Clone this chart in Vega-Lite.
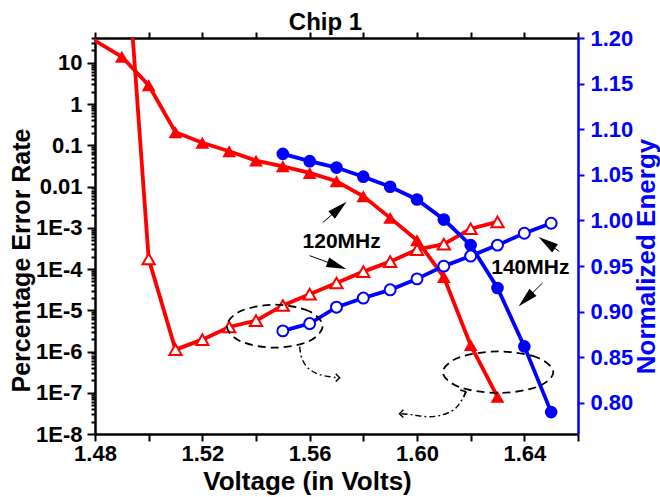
{
  "$schema": "https://vega.github.io/schema/vega-lite/v6.json",
  "width": 483,
  "height": 396,
  "autosize": {"type": "none"},
  "padding": {"left": 95, "top": 38, "right": 82, "bottom": 63},
  "background": "white",
  "config": {
    "view": {"stroke": null},
    "font": "Liberation Sans",
    "axis": {"grid": false, "labelFont": "Liberation Sans", "titleFont": "Liberation Sans", "labelFontWeight": "bold", "titleFontWeight": "bold", "labelFlush": false},
    "text": {"font": "Liberation Sans"}
  },
  "title": {"text": "Chip 1", "fontSize": 24, "fontWeight": "bold", "font": "Liberation Sans", "color": "black", "offset": -8, "anchor": "middle", "dx": -11},
  "datasets": {
    "errFilled": [
      {"v": 1.47, "r": 85},
      {"v": 1.49, "r": 14.0},
      {"v": 1.50, "r": 2.86},
      {"v": 1.51, "r": 0.207},
      {"v": 1.52, "r": 0.115},
      {"v": 1.53, "r": 0.0716},
      {"v": 1.54, "r": 0.0426},
      {"v": 1.55, "r": 0.031},
      {"v": 1.56, "r": 0.0214},
      {"v": 1.57, "r": 0.0134},
      {"v": 1.58, "r": 0.0058},
      {"v": 1.59, "r": 0.00174},
      {"v": 1.60, "r": 0.0005},
      {"v": 1.61, "r": 6.4e-5},
      {"v": 1.62, "r": 1.43e-6},
      {"v": 1.63, "r": 8.0e-8}
    ],
    "errOpen": [
      {"v": 1.49, "r": 200000},
      {"v": 1.50, "r": 1.76e-4},
      {"v": 1.51, "r": 1.11e-6},
      {"v": 1.52, "r": 1.94e-6},
      {"v": 1.53, "r": 3.94e-6},
      {"v": 1.54, "r": 5.6e-6},
      {"v": 1.55, "r": 1.31e-5},
      {"v": 1.56, "r": 2.46e-5},
      {"v": 1.57, "r": 4.6e-5},
      {"v": 1.58, "r": 8.65e-5},
      {"v": 1.59, "r": 1.51e-4},
      {"v": 1.60, "r": 2.96e-4},
      {"v": 1.61, "r": 4.02e-4},
      {"v": 1.62, "r": 9.5e-4},
      {"v": 1.63, "r": 1.39e-3}
    ],
    "enFilled": [
      {"v": 1.55, "e": 1.073},
      {"v": 1.56, "e": 1.065},
      {"v": 1.57, "e": 1.058},
      {"v": 1.58, "e": 1.048},
      {"v": 1.59, "e": 1.037},
      {"v": 1.60, "e": 1.023},
      {"v": 1.61, "e": 1.001},
      {"v": 1.62, "e": 0.973},
      {"v": 1.63, "e": 0.926},
      {"v": 1.64, "e": 0.862},
      {"v": 1.65, "e": 0.790}
    ],
    "enOpen": [
      {"v": 1.55, "e": 0.879},
      {"v": 1.56, "e": 0.887},
      {"v": 1.57, "e": 0.905},
      {"v": 1.58, "e": 0.915},
      {"v": 1.59, "e": 0.924},
      {"v": 1.60, "e": 0.936},
      {"v": 1.61, "e": 0.950},
      {"v": 1.62, "e": 0.961},
      {"v": 1.63, "e": 0.973},
      {"v": 1.64, "e": 0.986},
      {"v": 1.65, "e": 0.997}
    ],
    "ellipses": [
      {"g": "L", "i": 0, "v": 1.56484, "e": 0.88416},
      {"g": "L", "i": 1, "v": 1.55961, "e": 0.90082},
      {"g": "L", "i": 2, "v": 1.54698, "e": 0.90772},
      {"g": "L", "i": 3, "v": 1.53435, "e": 0.90082},
      {"g": "L", "i": 4, "v": 1.52912, "e": 0.88416},
      {"g": "L", "i": 5, "v": 1.53435, "e": 0.86750},
      {"g": "L", "i": 6, "v": 1.54698, "e": 0.86060},
      {"g": "L", "i": 7, "v": 1.55961, "e": 0.86750},
      {"g": "R", "i": 0, "v": 1.65079, "e": 0.83375},
      {"g": "R", "i": 1, "v": 1.64476, "e": 0.84987},
      {"g": "R", "i": 2, "v": 1.63021, "e": 0.85654},
      {"g": "R", "i": 3, "v": 1.61566, "e": 0.84987},
      {"g": "R", "i": 4, "v": 1.60963, "e": 0.83375},
      {"g": "R", "i": 5, "v": 1.61566, "e": 0.81763},
      {"g": "R", "i": 6, "v": 1.63021, "e": 0.81096},
      {"g": "R", "i": 7, "v": 1.64476, "e": 0.81763}
    ],
    "curves": [
      {"g": "L", "i": 0, "v": 1.55628, "e": 0.86170},
      {"g": "L", "i": 1, "v": 1.55702, "e": 0.84965},
      {"g": "L", "i": 2, "v": 1.55926, "e": 0.83869},
      {"g": "L", "i": 3, "v": 1.56372, "e": 0.83102},
      {"g": "L", "i": 4, "v": 1.57042, "e": 0.82773},
      {"g": "R", "i": 0, "v": 1.61842, "e": 0.81238},
      {"g": "R", "i": 1, "v": 1.61581, "e": 0.79923},
      {"g": "R", "i": 2, "v": 1.61321, "e": 0.79156},
      {"g": "R", "i": 3, "v": 1.60837, "e": 0.78608},
      {"g": "R", "i": 4, "v": 1.60353, "e": 0.78499},
      {"g": "R", "i": 5, "v": 1.59795, "e": 0.78718},
      {"g": "R", "i": 6, "v": 1.59349, "e": 0.78827}
    ],
    "chevrons": [
      {"v": 1.57116, "e": 0.82773, "a": 0},
      {"v": 1.59349, "e": 0.78827, "a": 180},
      {"v": 1.61805, "e": 0.81267, "a": -30}
    ],
    "arrowLines": [
      {"v": 1.56484, "e": 0.99759, "v2": 1.57098, "e2": 1.01337},
      {"v": 1.56, "e": 0.96143, "v2": 1.57016, "e2": 0.95058},
      {"v": 1.65302, "e": 0.96614, "v2": 1.64837, "e2": 0.97567},
      {"v": 1.64681, "e": 0.93151, "v2": 1.64056, "e2": 0.91353}
    ],
    "arrowHeads": [
      {"v": 1.57098, "e": 1.01337, "a": 48.7},
      {"v": 1.57016, "e": 0.95058, "a": 109.9},
      {"v": 1.64837, "e": 0.97567, "a": 304.8},
      {"v": 1.64056, "e": 0.91353, "a": 225.7}
    ],
    "labels": [
      {"v": 1.57191, "e": 0.97677, "t": "120MHz"},
      {"v": 1.64223, "e": 0.94827, "t": "140MHz"}
    ]
  },
  "layer": [
    {
      "layer": [
        {
          "data": {"name": "errFilled"},
          "mark": {"type": "line", "color": "#ff0000", "strokeWidth": 3.8, "clip": true},
          "encoding": {
            "x": {"field": "v", "type": "quantitative", "scale": {"domain": [1.48, 1.66], "nice": false, "zero": false},
              "axis": {"orient": "bottom", "values": [1.48, 1.50, 1.52, 1.54, 1.56, 1.58, 1.60, 1.62, 1.64, 1.66],
                "labelExpr": "indexof(['1.48','1.52','1.56','1.60','1.64'], format(datum.value,'.2f')) >= 0 ? format(datum.value,'.2f') : ''",
                "labelOverlap": false,
                "labelFontSize": 22, "labelColor": "black", "labelPadding": 2,
                "tickSize": 7, "tickWidth": 2, "tickColor": "black", "domainColor": "black", "domainWidth": 2.5,
                "title": "Voltage (in Volts)", "titleFontSize": 26, "titleColor": "black",
                "titleX": 212, "titleY": 47, "titleAlign": "center", "titleBaseline": "middle"}},
            "y": {"field": "r", "type": "quantitative", "scale": {"type": "log", "domain": [1e-8, 40], "nice": false},
              "axis": {"orient": "left", "tickCount": 100,
                "labelExpr": "abs(log(datum.value)/LN10 - round(log(datum.value)/LN10)) < 1e-6 ? (datum.value >= 0.009 ? format(datum.value, '~g') : '1E' + round(log(datum.value)/LN10)) : ''",
                "labelOverlap": false,
                "tickSize": {"condition": {"test": "abs(log(datum.value)/LN10 - round(log(datum.value)/LN10)) < 1e-6", "value": 8}, "value": 4},
                "labelFontSize": 22, "labelColor": "black", "labelPadding": 5,
                "tickWidth": 2, "tickColor": "black", "domainColor": "black", "domainWidth": 2.5,
                "title": "Percentage Error Rate", "titleFontSize": 25, "titleColor": "black",
                "titleX": -74, "titleY": 222, "titleAngle": -90, "titleAlign": "center", "titleBaseline": "middle"}}
          }
        },
        {
          "data": {"name": "errFilled"},
          "mark": {"type": "point", "shape": "triangle-up", "filled": true, "color": "#ff0000", "size": 190, "opacity": 1, "clip": true},
          "encoding": {
            "x": {"field": "v", "type": "quantitative"},
            "y": {"field": "r", "type": "quantitative"}
          }
        },
        {
          "data": {"name": "errOpen"},
          "mark": {"type": "line", "color": "#ff0000", "strokeWidth": 3.8, "clip": true},
          "encoding": {
            "x": {"field": "v", "type": "quantitative"},
            "y": {"field": "r", "type": "quantitative"}
          }
        },
        {
          "data": {"name": "errOpen"},
          "mark": {"type": "point", "shape": "triangle-up", "filled": true, "fill": "white", "stroke": "#ff0000", "strokeWidth": 2, "size": 150, "opacity": 1, "clip": true},
          "encoding": {
            "x": {"field": "v", "type": "quantitative"},
            "y": {"field": "r", "type": "quantitative"}
          }
        }
      ]
    },
    {
      "layer": [
        {
          "data": {"name": "enFilled"},
          "mark": {"type": "line", "color": "#0000ff", "strokeWidth": 3.8, "clip": true},
          "encoding": {
            "x": {"field": "v", "type": "quantitative",
              "axis": {"orient": "top", "values": [1.48, 1.50, 1.52, 1.54, 1.56, 1.58, 1.60, 1.62, 1.64, 1.66],
                "labels": false, "title": null, "tickSize": 6, "tickWidth": 2, "tickColor": "black", "domainColor": "black", "domainWidth": 2.5}},
            "y": {"field": "e", "type": "quantitative", "scale": {"domain": [0.766, 1.2], "nice": false, "zero": false},
              "axis": {"orient": "right",
                "values": [0.8, 0.85, 0.9, 0.95, 1.0, 1.05, 1.1, 1.15, 1.2],
                "format": ".2f",
                "tickSize": 6,
                "labelFontSize": 22, "labelColor": "#0000ff", "labelPadding": 6,
                "tickWidth": 2, "tickColor": "#0000ff", "domainColor": "#0000ff", "domainWidth": 2.5,
                "title": "Normalized Energy", "titleFontSize": 26, "titleColor": "#0000ff",
                "titleX": 68, "titleY": 218, "titleAngle": -90, "titleAlign": "center", "titleBaseline": "middle"}}
          }
        },
        {
          "data": {"name": "enFilled"},
          "mark": {"type": "point", "shape": "circle", "filled": true, "color": "#0000ff", "size": 160, "opacity": 1, "clip": true},
          "encoding": {
            "x": {"field": "v", "type": "quantitative"},
            "y": {"field": "e", "type": "quantitative"}
          }
        },
        {
          "data": {"name": "enOpen"},
          "mark": {"type": "line", "color": "#0000ff", "strokeWidth": 3.8, "clip": true},
          "encoding": {
            "x": {"field": "v", "type": "quantitative"},
            "y": {"field": "e", "type": "quantitative"}
          }
        },
        {
          "data": {"name": "enOpen"},
          "mark": {"type": "point", "shape": "circle", "filled": true, "fill": "white", "stroke": "#0000ff", "strokeWidth": 2, "size": 120, "opacity": 1, "clip": true},
          "encoding": {
            "x": {"field": "v", "type": "quantitative"},
            "y": {"field": "e", "type": "quantitative"}
          }
        },
        {
          "data": {"name": "ellipses"},
          "mark": {"type": "line", "color": "black", "strokeWidth": 1.8, "strokeDash": [8, 5], "interpolate": "cardinal-closed"},
          "encoding": {
            "x": {"field": "v", "type": "quantitative"},
            "y": {"field": "e", "type": "quantitative"},
            "detail": {"field": "g"},
            "order": {"field": "i", "type": "quantitative"}
          }
        },
        {
          "data": {"name": "curves"},
          "mark": {"type": "line", "color": "black", "strokeWidth": 1.4, "strokeDash": [6, 3, 2, 3], "interpolate": "cardinal"},
          "encoding": {
            "x": {"field": "v", "type": "quantitative"},
            "y": {"field": "e", "type": "quantitative"},
            "detail": {"field": "g"},
            "order": {"field": "i", "type": "quantitative"}
          }
        },
        {
          "data": {"name": "chevrons"},
          "mark": {"type": "point", "shape": "M-1,-1L0,0L-1,1", "filled": false, "stroke": "black", "strokeWidth": 1.5, "size": 60, "opacity": 1},
          "encoding": {
            "x": {"field": "v", "type": "quantitative"},
            "y": {"field": "e", "type": "quantitative"},
            "angle": {"field": "a", "type": "quantitative", "scale": null}
          }
        },
        {
          "data": {"name": "arrowLines"},
          "mark": {"type": "rule", "color": "black", "strokeWidth": 1},
          "encoding": {
            "x": {"field": "v", "type": "quantitative"},
            "y": {"field": "e", "type": "quantitative"},
            "x2": {"field": "v2"},
            "y2": {"field": "e2"}
          }
        },
        {
          "data": {"name": "arrowHeads"},
          "mark": {"type": "point", "shape": "M0,-1L0.5,1L-0.5,1Z", "filled": true, "color": "black", "size": 400, "opacity": 1},
          "encoding": {
            "x": {"field": "v", "type": "quantitative"},
            "y": {"field": "e", "type": "quantitative"},
            "angle": {"field": "a", "type": "quantitative", "scale": null}
          }
        },
        {
          "data": {"name": "labels"},
          "mark": {"type": "text", "fontSize": 21, "fontWeight": "bold", "color": "black", "align": "center", "baseline": "middle"},
          "encoding": {
            "x": {"field": "v", "type": "quantitative"},
            "y": {"field": "e", "type": "quantitative"},
            "text": {"field": "t"}
          }
        }
      ]
    }
  ],
  "resolve": {"scale": {"y": "independent"}, "axis": {"x": "independent", "y": "independent"}}
}
